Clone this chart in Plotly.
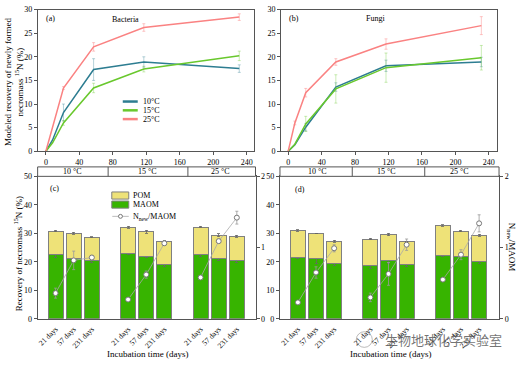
import plotly.graph_objects as go

W, H = 520, 366
def px(x): return x / W
def py(y): return 1 - y / H

# ---------------- data ----------------
# (a) Bacteria modeled recovery
days_a = [0, 8, 21, 57, 117, 231]
bac_10 = [0, 2.4, 8.2, 17.3, 18.9, 17.5]
bac_15 = [0, 1.8, 6.0, 13.4, 17.4, 20.2]
bac_25 = [0, 5.3, 13.4, 22.1, 26.2, 28.4]
bac_10_err = [0, 0, 1.8, 2.3, 1.1, 0.8]
bac_15_err = [0, 0, 0.5, 1.0, 0.6, 1.0]
bac_25_err = [0, 0, 0.3, 0.9, 0.8, 0.7]

# (b) Fungi modeled recovery
days_b = [0, 8, 21, 57, 117, 231]
fun_10 = [0, 1.4, 5.1, 13.6, 18.1, 18.9]
fun_15 = [0, 1.5, 5.8, 13.2, 17.7, 19.8]
fun_25 = [0, 6.0, 12.4, 18.9, 22.7, 26.6]
fun_10_err = [0, 0, 0.8, 0.9, 1.2, 1.0]
fun_15_err = [0, 0, 1.6, 3.0, 3.1, 2.6]
fun_25_err = [0, 0.4, 0.9, 0.7, 1.1, 1.9]

temps = ["10 °C", "15 °C", "25 °C"]
temp_legend = ["10°C", "15°C", "25°C"]
day_labels = ["21 days", "57 days", "231 days"]

# (c) bacteria fractions (order: 10C x3 days, 15C x3, 25C x3)
c_maom = [22.7, 21.2, 20.3, 22.8, 21.7, 19.0, 22.7, 21.1, 20.3]
c_total = [30.8, 30.0, 28.6, 32.1, 30.6, 27.3, 32.2, 29.3, 29.0]
c_maom_err = [1.1, 1.2, 0.4, 0.3, 0.2, 0.7, 1.0, 0.5, 0.7]
c_total_err = [0.3, 0.3, 0.2, 0.3, 0.5, 0.3, 0.2, 0.5, 0.4]
c_ratio = [0.36, 0.82, 0.86, 0.27, 0.62, 1.06, 0.58, 1.09, 1.42]
c_ratio_err = [0.07, 0.13, 0.03, 0.02, 0.05, 0.03, 0.02, 0.03, 0.09]

# (d) fungi fractions
d_maom = [21.4, 21.0, 19.4, 18.6, 20.3, 18.9, 22.1, 22.0, 20.0]
d_total = [31.0, 30.0, 27.2, 28.0, 29.6, 27.2, 32.7, 30.8, 29.3]
d_maom_err = [0.4, 1.7, 0.6, 0.8, 1.0, 0.6, 0.2, 0.3, 0.6]
d_total_err = [0.3, 0.1, 0.4, 0.2, 0.5, 0.1, 0.3, 0.2, 0.3]
d_ratio = [0.23, 0.65, 0.99, 0.30, 0.63, 1.04, 0.55, 0.90, 1.34]
d_ratio_err = [0.02, 0.08, 0.05, 0.06, 0.16, 0.08, 0.02, 0.07, 0.12]

# ---------------- styles ----------------
FONT = "Liberation Serif"
C10, C15, C25 = "rgb(45,125,145)", "rgb(105,200,45)", "rgb(250,130,130)"
E10, E15, E25 = "rgba(45,125,145,0.35)", "rgba(105,200,45,0.35)", "rgba(250,130,130,0.45)"
MAOM_C, POM_C = "rgb(55,180,0)", "rgb(238,226,120)"
AX = "#555555"

fig = go.Figure()

def add_line(x, y, err, col, ecol, xa, ya):
    fig.add_trace(go.Scatter(x=x, y=y, mode="lines", line=dict(color=col, width=1.5),
                             xaxis=xa, yaxis=ya, showlegend=False, hoverinfo="skip"))
    ex = [a for a, e in zip(x, err) if e > 0]
    ey = [b for b, e in zip(y, err) if e > 0]
    ee = [e for e in err if e > 0]
    fig.add_trace(go.Scatter(x=ex, y=ey, mode="markers", marker=dict(size=1, color="rgba(0,0,0,0)"),
                             error_y=dict(type="data", array=ee, color=ecol, thickness=1, width=1.5),
                             xaxis=xa, yaxis=ya, showlegend=False, hoverinfo="skip"))

add_line(days_a, bac_10, bac_10_err, C10, E10, "x", "y")
add_line(days_a, bac_15, bac_15_err, C15, E15, "x", "y")
add_line(days_a, bac_25, bac_25_err, C25, E25, "x", "y")
add_line(days_b, fun_10, fun_10_err, C10, E10, "x2", "y2")
add_line(days_b, fun_15, fun_15_err, C15, E15, "x2", "y2")
add_line(days_b, fun_25, fun_25_err, C25, E25, "x2", "y2")

pos = [g * 4 + d for g in range(3) for d in range(3)]

def add_bars(maom, total, maom_err, total_err, ratio, ratio_err, xa, ya, ya2):
    pom = [t - m for t, m in zip(total, maom)]
    fig.add_trace(go.Bar(x=pos, y=maom, width=0.83, marker=dict(color=MAOM_C, line=dict(color="#808080", width=1)),
                         error_y=dict(type="data", array=maom_err, color="#666666", thickness=0.8, width=1.5),
                         xaxis=xa, yaxis=ya, showlegend=False, hoverinfo="skip"))
    fig.add_trace(go.Bar(x=pos, y=pom, width=0.83, marker=dict(color=POM_C, line=dict(color="#808080", width=1)),
                         error_y=dict(type="data", array=total_err, color="#666666", thickness=0.8, width=1.5),
                         xaxis=xa, yaxis=ya, showlegend=False, hoverinfo="skip"))
    rx, ry, re = [], [], []
    for g in range(3):
        for d in range(3):
            i = g * 3 + d
            rx.append(pos[i]); ry.append(ratio[i]); re.append(ratio_err[i])
        rx.append(None); ry.append(None); re.append(0)
    fig.add_trace(go.Scatter(x=rx, y=ry, mode="lines+markers",
                             line=dict(color="rgb(170,170,170)", width=0.8),
                             marker=dict(symbol="circle", size=5, color="white", line=dict(color="#777777", width=1)),
                             error_y=dict(type="data", array=re, color="#999999", thickness=0.8, width=1.5),
                             xaxis=xa, yaxis=ya2, showlegend=False, hoverinfo="skip"))

add_bars(c_maom, c_total, c_maom_err, c_total_err, c_ratio, c_ratio_err, "x3", "y3", "y4")
add_bars(d_maom, d_total, d_maom_err, d_total_err, d_ratio, d_ratio_err, "x4", "y5", "y6")

tickfont = dict(family=FONT, size=8, color="black")
common = dict(showline=True, linecolor=AX, linewidth=1, showgrid=False, zeroline=False,
              ticks="outside", ticklen=3, tickcolor=AX, tickfont=tickfont)
xbottom = dict(tickangle=-45, showline=True, linecolor=AX, mirror=True, showgrid=False, zeroline=False,
               ticks="", ticklabelstandoff=2, tickfont=dict(family=FONT, size=7.5, color="black"))

fig.update_layout(
    width=W, height=H, autosize=False, margin=dict(l=0, r=0, t=0, b=0),
    paper_bgcolor="white", plot_bgcolor="white", barmode="stack", bargap=0, hovermode=False,
    font=dict(family=FONT, size=8, color="black"),
    xaxis=dict(domain=[px(37), px(253)], range=[-9.5, 248], anchor="y", tickvals=[0, 40, 80, 120, 160, 200, 240], mirror=True, **common),
    yaxis=dict(domain=[py(151), py(5.7)], range=[0, 30], anchor="x", dtick=5, mirror=True, **common),
    xaxis2=dict(domain=[px(280.7), px(497)], range=[-8.4, 249.8], anchor="y2", tickvals=[0, 40, 80, 120, 160, 200, 240], mirror=True, **common),
    yaxis2=dict(domain=[py(151), py(5.7)], range=[0, 30], anchor="x2", dtick=5, mirror=True, **common),
    xaxis3=dict(domain=[px(36.7), px(255)], range=[-0.99, 11.03], anchor="y3", tickvals=pos,
                ticktext=day_labels * 3, **xbottom),
    yaxis3=dict(domain=[py(322.7), py(176.7)], range=[0, 50], anchor="x3", tickvals=[0, 10, 20, 30, 40, 50], **common),
    yaxis4=dict(range=[0, 2], overlaying="y3", side="right", anchor="x3", tickvals=[0, 1, 2], **common),
    xaxis4=dict(domain=[px(279.5), px(499)], range=[-0.99, 11.1], anchor="y5", tickvals=pos,
                ticktext=day_labels * 3, **xbottom),
    yaxis5=dict(domain=[py(322.7), py(176.7)], range=[0, 50], anchor="x4", tickvals=[0, 10, 20, 30, 40, 50], **common),
    yaxis6=dict(range=[0, 2], overlaying="y5", side="right", anchor="x4", tickvals=[0, 1, 2], **common),
)

shapes = []
ann = []
def A(text, x, y, size=8, xanchor="center", angle=0, color="black", family=FONT, xref="paper"):
    ann.append(dict(text=text, x=x, y=y, xref=xref, yref="paper", showarrow=False, xanchor=xanchor,
                    yanchor="middle", textangle=angle, font=dict(family=family, size=size, color=color)))

# header strips
for xa, divs, centers in [("x3", [2.9, 7.3], [0.93, 5.07, 9.1]), ("x4", [3, 7], [1.06, 4.9, 8.9])]:
    shapes.append(dict(type="rect", xref=xa + " domain", yref="paper", x0=0, x1=1, y0=py(176.7), y1=py(167),
                       line=dict(color=AX, width=1), fillcolor="white"))
    for dv in divs:
        shapes.append(dict(type="line", xref=xa, yref="paper", x0=dv, x1=dv, y0=py(176.7), y1=py(167),
                           line=dict(color=AX, width=1)))
    for t, cx in zip(temps, centers):
        A(t, cx, py(172), size=8, xref=xa)

# panel labels
A("(a)", px(43), py(15), xanchor="left")
A("Bacteria", px(125), py(16))
A("(b)", px(287), py(15), xanchor="left")
A("Fungi", px(375), py(15))
A("(c)", px(47), py(189), xanchor="left")
A("(d)", px(293), py(190), xanchor="left")

# axis titles
A("Modeled recovery of newly formed<br>necromass <sup>15</sup>N (%)", px(13), py(80), size=9, angle=-90)
A("Recovery of necromass <sup>15</sup>N (%)", px(16.5), py(256), size=9, angle=-90)
A("N<sub>new</sub>/MAOM", px(511), py(249), size=9, angle=90)
A("Incubation time (days)", px(146.7), py(358.5), size=9)
A("Incubation time (days)", px(390), py(358.5), size=9)

# legend (a)
for i, (lab, col) in enumerate(zip(temp_legend, [C10, C15, C25])):
    yy = py(100 + 9 * i)
    shapes.append(dict(type="line", xref="paper", yref="paper", x0=px(122), x1=px(137), y0=yy, y1=yy,
                       line=dict(color=col, width=2.5)))
    A(lab, px(140), yy, xanchor="left")

# legend (c)
shapes.append(dict(type="rect", xref="paper", yref="paper", x0=px(111), x1=px(128), y0=py(200), y1=py(192.7),
                   fillcolor=POM_C, line=dict(color="#808080", width=1)))
shapes.append(dict(type="rect", xref="paper", yref="paper", x0=px(111), x1=px(128), y0=py(209.3), y1=py(202),
                   fillcolor=MAOM_C, line=dict(color="#808080", width=1)))
shapes.append(dict(type="line", xref="paper", yref="paper", x0=px(111.5), x1=px(128), y0=py(217.7), y1=py(217.7),
                   line=dict(color="rgb(170,170,170)", width=0.8)))
shapes.append(dict(type="circle", xref="paper", yref="paper", x0=px(117.7), x1=px(121.7), y0=py(219.7), y1=py(215.7),
                   fillcolor="white", line=dict(color="#777777", width=1)))
A("POM", px(130.5), py(196.5), xanchor="left")
A("MAOM", px(130.5), py(205.5), xanchor="left")
A("N<sub>new</sub>/MAOM", px(130.5), py(218), xanchor="left")

# watermark
A("生物地球化学实验室", px(383), py(344), size=13, xanchor="left", color="rgba(70,70,70,0.75)",
  family="Noto Sans CJK SC")
shapes.append(dict(type="circle", xref="paper", yref="paper", x0=px(356), x1=px(372), y0=py(352), y1=py(336),
                   line=dict(color="rgba(120,120,120,0.5)", width=1)))

fig.update_layout(shapes=shapes, annotations=ann)
fig.write_html("out.html", config={"displayModeBar": False, "staticPlot": True},
               post_script="document.body.style.margin='0';document.body.style.padding='0';")
